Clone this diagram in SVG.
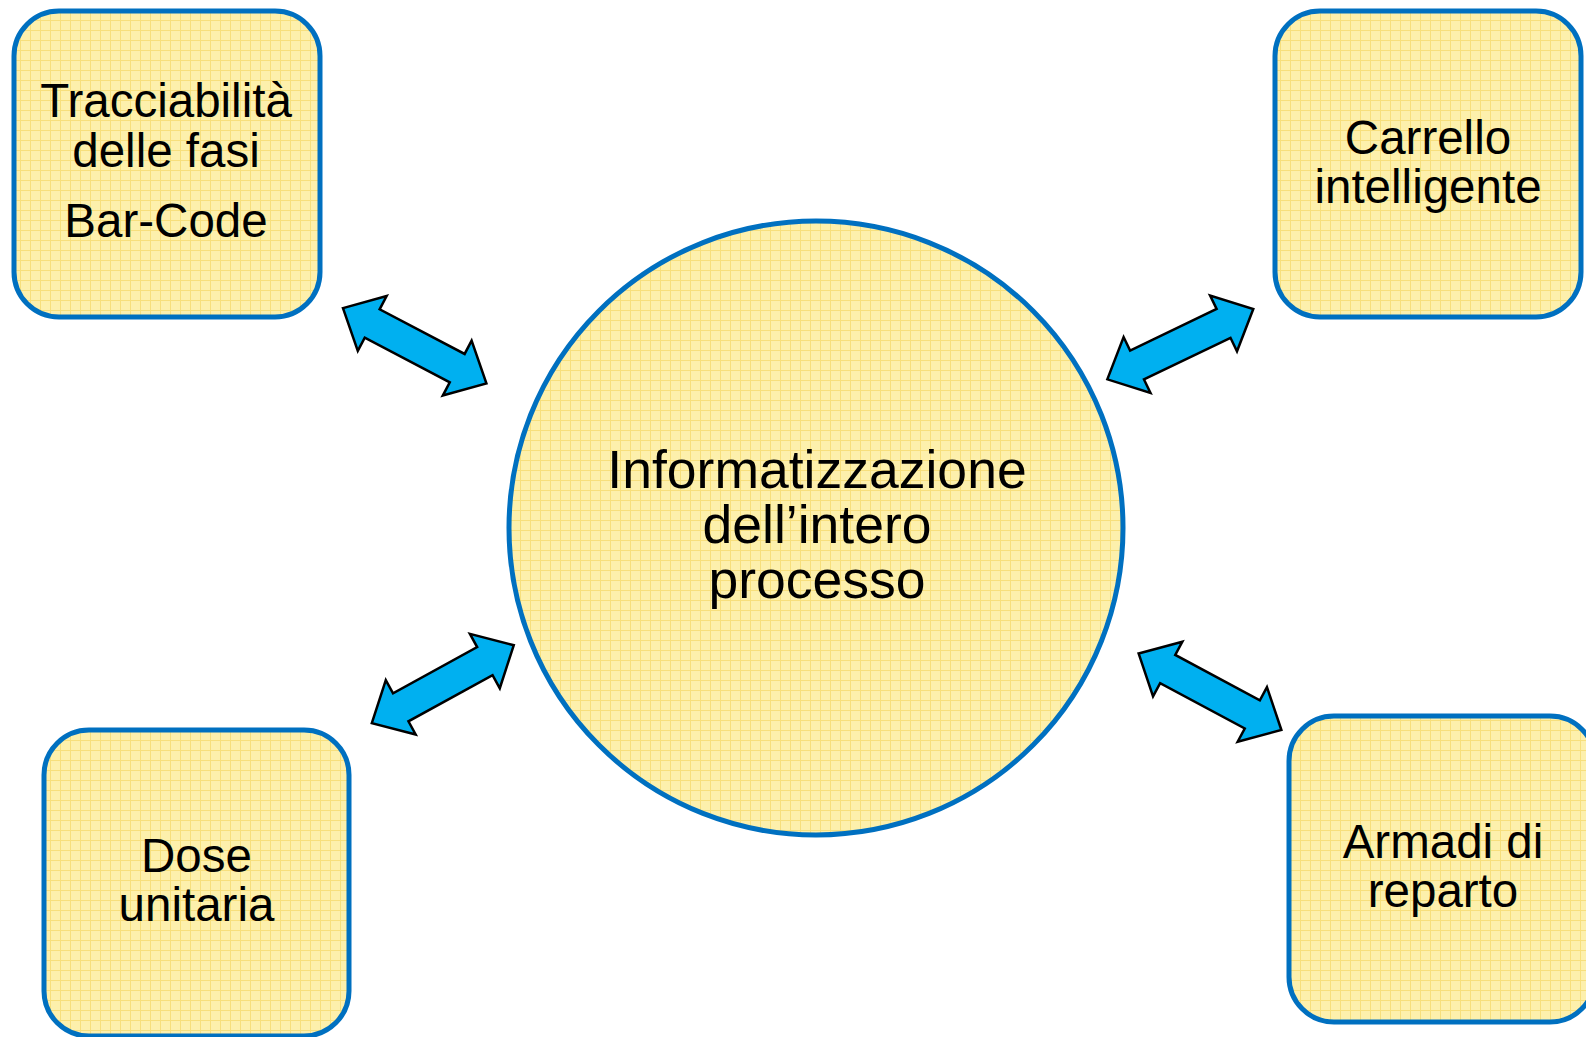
<svg xmlns="http://www.w3.org/2000/svg" width="1586" height="1037" viewBox="0 0 1586 1037">
<style>
.node{fill:url(#grid);stroke:#0070C0;stroke-width:5}
.lbl{font-family:"Liberation Sans",Arial,sans-serif;font-size:47.5px;fill:#000;text-anchor:middle}
.big{font-size:53.5px}
.arr{fill:#00B0F0;stroke:#000;stroke-width:2.5;stroke-linejoin:miter}
</style>
<defs>
<pattern id="grid" patternUnits="userSpaceOnUse" width="10" height="10">
<rect width="10" height="10" fill="#FDF0AC"/>
<path d="M0 0.5H10M0.5 0V10" stroke="#F7DF7C" stroke-width="1" fill="none"/>
</pattern>
<polygon id="dbl" points="-81,0 -48,-31 -48,-16 48,-16 48,-31 81,0 48,31 48,16 -48,16 -48,31"/>
</defs>
<rect width="1586" height="1037" fill="#fff"/>
<g id="connectors">
<use href="#dbl" class="arr" transform="translate(414.7,345.8) rotate(27.7)"/>
<use href="#dbl" class="arr" transform="translate(1180.3,344.2) rotate(-25.7)"/>
<use href="#dbl" class="arr" transform="translate(442.8,684.2) rotate(-28.8)"/>
<use href="#dbl" class="arr" transform="translate(1210,691.7) rotate(28.2)"/>
</g>
<g id="center">
<circle class="node" cx="816" cy="528" r="307"/>
<text class="lbl big" x="817" y="488">Informatizzazione</text>
<text class="lbl big" x="817" y="543">dell’intero</text>
<text class="lbl big" x="817" y="598">processo</text>
</g>
<g id="tracciabilita">
<rect class="node" x="14" y="11" width="306" height="306" rx="45"/>
<text class="lbl" x="166" y="117">Tracciabilità</text>
<text class="lbl" x="166" y="167">delle fasi</text>
<text class="lbl" x="166" y="237">Bar-Code</text>
</g>
<g id="carrello">
<rect class="node" x="1275" y="11" width="306" height="306" rx="45"/>
<text class="lbl" x="1428" y="154">Carrello</text>
<text class="lbl" x="1428" y="203">intelligente</text>
</g>
<g id="dose">
<rect class="node" x="44" y="730" width="305" height="306" rx="45"/>
<text class="lbl" x="196.5" y="872">Dose</text>
<text class="lbl" x="196.5" y="921">unitaria</text>
</g>
<g id="armadi">
<rect class="node" x="1289" y="716" width="306" height="306" rx="45"/>
<text class="lbl" x="1443" y="858">Armadi di</text>
<text class="lbl" x="1443" y="907">reparto</text>
</g>
</svg>
